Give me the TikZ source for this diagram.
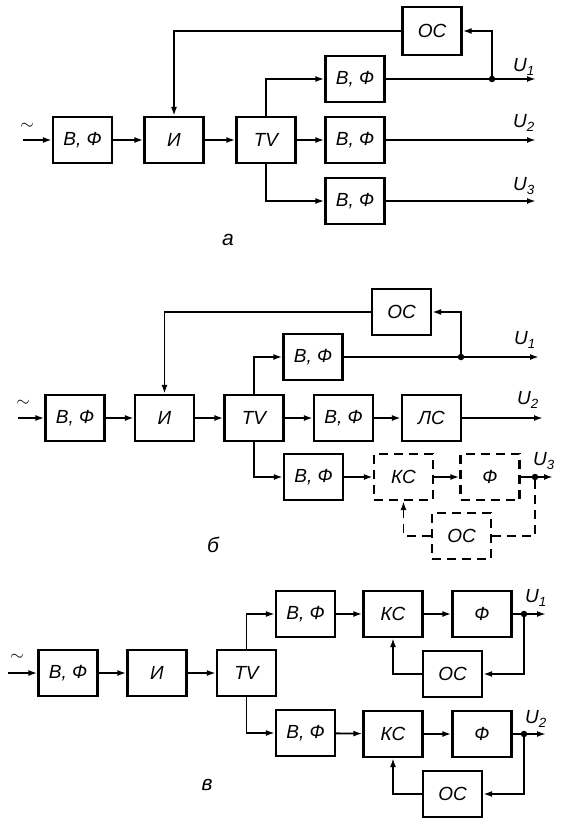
\documentclass[tikz,border=0pt]{standalone}
\usepackage{fontspec}
\setmainfont{Liberation Sans}
\usetikzlibrary{positioning,arrows.meta,calc}

\begin{document}
\begin{tikzpicture}[
    x=1pt, y=-1pt,
    every node/.style={font=\fontsize{19}{22}\selectfont\itshape},
    blk/.style={rectangle, draw, line width=2.2pt, minimum width=59pt, minimum height=46pt, inner sep=0pt},
    dblk/.style={blk, dash pattern=on 9pt off 6pt},
    wire/.style={line width=1.8pt},
    arr/.style={wire, -{Latex[length=9pt,width=6pt]}},
    dwire/.style={wire, dash pattern=on 9pt off 6pt},
    darr/.style={arr, dash pattern=on 9pt off 6pt},
    jdot/.style={circle, fill, inner sep=0pt, minimum size=6.5pt},
    parttag/.style={font=\fontsize{21}{24}\selectfont\itshape}
]
\useasboundingbox (0,0) rectangle (569,829);

% a
\node[blk] (aIn) at (82.5,140) {В, Ф};
\node[blk] (aI) at (174,140) {И};
\node[blk] (aTV) at (266,140) {TV};
\node[blk] (aBF1) at (355,79) {В, Ф};
\node[blk] (aBF2) at (355,140) {В, Ф};
\node[blk] (aBF3) at (355,201) {В, Ф};
\node[blk, minimum height=48pt] (aOS) at (432,31) {ОС};
\node[jdot] (aJ) at (492,79) {};
\coordinate (aSrc) at (23,140);
\coordinate (aU1) at (536,79);
\coordinate (aU2) at (536,140);
\coordinate (aU3) at (536,201);
\node at (27,126) {$\sim$};
\node at (524,67) {U\textsubscript{1}};
\node at (524,123) {U\textsubscript{2}};
\node at (524,186) {U\textsubscript{3}};
\node[parttag] at (228,240) {а};

\draw[arr] (aSrc) -- (aIn);
\draw[arr] (aIn) -- (aI);
\draw[arr] (aI) -- (aTV);
\draw[arr] (aTV) -- (aBF2);
\draw[arr] (aTV.north) |- (aBF1);
\draw[arr] (aTV.south) |- (aBF3);
\draw[wire] (aBF1) -- (aJ);
\draw[arr] (aJ) -- (aU1);
\draw[arr] (aBF2) -- (aU2);
\draw[arr] (aBF3) -- (aU3);
\draw[arr] (aJ) |- (aOS);
\draw[arr] (aOS) -| (aI);

% b
\node[blk] (bIn) at (75,418) {В, Ф};
\node[blk] (bI) at (164.5,418) {И};
\node[blk] (bTV) at (254,418) {TV};
\node[blk] (bBF1) at (313,357) {В, Ф};
\node[blk] (bBF2) at (343.5,418) {В, Ф};
\node[blk] (bLS) at (431.5,418) {ЛС};
\node[blk] (bBF3) at (313.5,477) {В, Ф};
\node[dblk] (bKS) at (403.5,477) {КС};
\node[dblk] (bF) at (490,477) {Ф};
\node[dblk] (bOS2) at (461.5,536) {ОС};
\node[blk] (bOS) at (401.5,312) {ОС};
\node[jdot] (bJ1) at (461,357) {};
\node[jdot] (bJ3) at (535,477) {};
\coordinate (bSrc) at (18,418);
\coordinate (bU1) at (539,357);
\coordinate (bU2) at (543,418);
\coordinate (bU3) at (553,477);
\node at (23,403) {$\sim$};
\node at (525,340) {U\textsubscript{1}};
\node at (528,400) {U\textsubscript{2}};
\node at (544,461) {U\textsubscript{3}};
\node[parttag] at (213,545) {б};

\draw[arr] (bSrc) -- (bIn);
\draw[arr] (bIn) -- (bI);
\draw[arr] (bI) -- (bTV);
\draw[arr] (bTV) -- (bBF2);
\draw[arr] (bTV.north) |- (bBF1);
\draw[arr] (bTV.south) |- (bBF3);
\draw[wire] (bBF1) -- (bJ1);
\draw[arr] (bJ1) -- (bU1);
\draw[arr] (bJ1) |- (bOS);
\draw[arr] (bOS) -| (bI);
\draw[arr] (bBF2) -- (bLS);
\draw[arr] (bLS) -- (bU2);
\draw[arr] (bBF3) -- (bKS);
\draw[arr] (bKS) -- (bF);
\draw[wire] (bF) -- (bJ3);
\draw[arr] (bJ3) -- (bU3);
\draw[dwire] (bJ3) |- (bOS2);
\draw[darr] (bOS2) -| (bKS);

% c
\node[blk] (cIn) at (68,673) {В, Ф};
\node[blk] (cI) at (157,673) {И};
\node[blk] (cTV) at (246.5,673) {TV};
\node[blk] (cBF1) at (305.5,614) {В, Ф};
\node[blk] (cKS1) at (393,614) {КС};
\node[blk] (cF1) at (482,614) {Ф};
\node[blk] (cOS1) at (452.5,674) {ОС};
\node[blk] (cBF2) at (305.5,733) {В, Ф};
\node[blk] (cKS2) at (393,734) {КС};
\node[blk] (cF2) at (482,734) {Ф};
\node[blk] (cOS2) at (452.5,794) {ОС};
\node[jdot] (cJ1) at (524,614) {};
\node[jdot] (cJ2) at (524,734) {};
\coordinate (cSrc) at (8,673);
\coordinate (cU1) at (546,614);
\coordinate (cU2) at (546,734);
\node at (17,657) {$\sim$};
\node at (536,598) {U\textsubscript{1}};
\node at (536,719) {U\textsubscript{2}};
\node[parttag] at (207,785) {в};

\draw[arr] (cSrc) -- (cIn);
\draw[arr] (cIn) -- (cI);
\draw[arr] (cI) -- (cTV);
\draw[arr] (cTV.north) |- (cBF1);
\draw[arr] (cTV.south) |- (cBF2);
\draw[arr] (cBF1) -- (cKS1);
\draw[arr] (cKS1) -- (cF1);
\draw[wire] (cF1) -- (cJ1);
\draw[arr] (cJ1) -- (cU1);
\draw[arr] (cJ1) |- (cOS1);
\draw[arr] (cOS1) -| (cKS1);
\draw[arr] (cBF2) -- (cKS2);
\draw[arr] (cKS2) -- (cF2);
\draw[wire] (cF2) -- (cJ2);
\draw[arr] (cJ2) -- (cU2);
\draw[arr] (cJ2) |- (cOS2);
\draw[arr] (cOS2) -| (cKS2);
\end{tikzpicture}
\end{document}
